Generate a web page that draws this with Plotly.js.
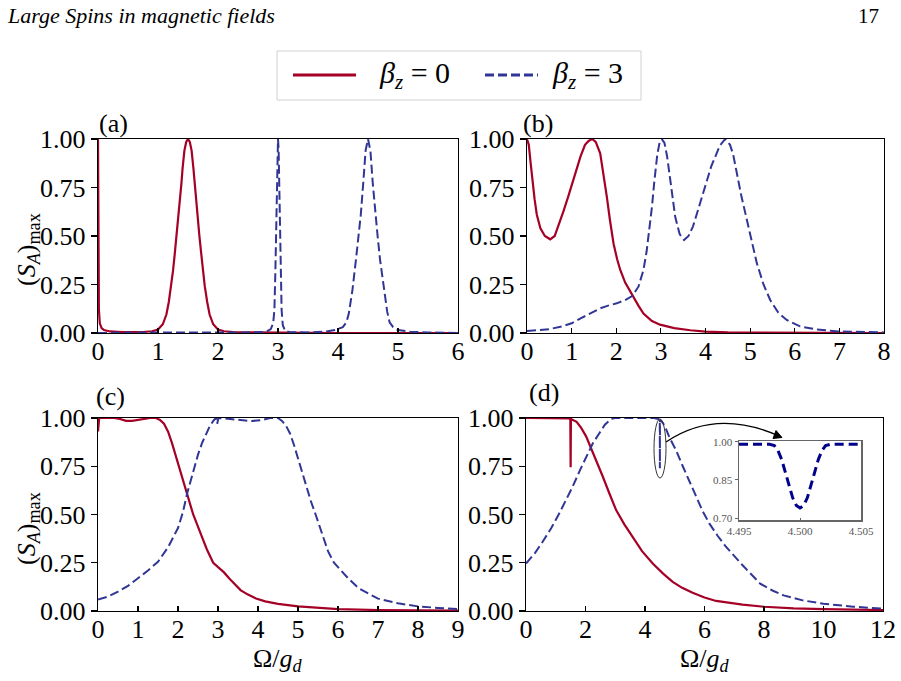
<!DOCTYPE html>
<html>
<head>
<meta charset="utf-8">
<script src="https://cdn.plot.ly/plotly-3.0.1.min.js"></script>
<style>
  html, body { margin: 0; padding: 0; background: #fff; }
  #chart { width: 901px; height: 681px; }
</style>
</head>
<body>
<div id="chart"></div>
<script>
// ---- (a) ----
const aOmega0 = [0, 0.005, 0.015, 0.03, 0.06, 0.1, 0.2, 0.4, 0.6, 0.75, 0.9, 1.0, 1.08, 1.14, 1.18, 1.22, 1.25, 1.28, 1.31, 1.33, 1.36, 1.39, 1.41, 1.44, 1.47, 1.5, 1.53, 1.56, 1.59, 1.61, 1.64, 1.67, 1.69, 1.72, 1.75, 1.78, 1.82, 1.86, 1.92, 2.0, 2.1, 2.25, 2.5, 3.0, 4.0, 5.0, 6.0];
const aSpin0  = [1.0, 0.5, 0.12, 0.05, 0.025, 0.015, 0.008, 0.005, 0.004, 0.005, 0.009, 0.018, 0.045, 0.095, 0.16, 0.24, 0.32, 0.41, 0.5, 0.56, 0.66, 0.77, 0.85, 0.94, 0.985, 1.0, 0.985, 0.94, 0.85, 0.77, 0.66, 0.56, 0.5, 0.41, 0.32, 0.24, 0.16, 0.095, 0.045, 0.018, 0.009, 0.005, 0.003, 0.001, 0, 0, 0];
const aOmega3 = [0, 0.5, 1.0, 1.5, 2.0, 2.5, 2.8, 2.88, 2.92, 2.94, 2.955, 2.97, 2.98, 2.99, 3.0, 3.01, 3.02, 3.03, 3.045, 3.06, 3.08, 3.12, 3.2, 3.5, 3.8, 3.95, 4.08, 4.14, 4.18, 4.24, 4.3, 4.34, 4.38, 4.42, 4.46, 4.5, 4.54, 4.58, 4.62, 4.66, 4.7, 4.76, 4.82, 4.86, 4.92, 5.0, 5.2, 5.5, 6.0];
const aSpin3  = [0, 0.002, 0.003, 0.002, 0.002, 0.003, 0.006, 0.02, 0.05, 0.12, 0.3, 0.55, 0.8, 0.95, 1.0, 0.95, 0.8, 0.55, 0.3, 0.12, 0.04, 0.01, 0.004, 0.003, 0.008, 0.015, 0.03, 0.055, 0.1, 0.22, 0.38, 0.5, 0.61, 0.77, 0.94, 1.0, 0.94, 0.77, 0.61, 0.5, 0.38, 0.23, 0.11, 0.055, 0.03, 0.015, 0.007, 0.003, 0];

// ---- (b) ----
const bOmega0 = [0, 0.04, 0.08, 0.12, 0.17, 0.22, 0.3, 0.4, 0.52, 0.62, 0.72, 0.82, 0.92, 1.0, 1.1, 1.2, 1.3, 1.38, 1.46, 1.54, 1.64, 1.71, 1.79, 1.86, 1.94, 2.02, 2.09, 2.2, 2.365, 2.5, 2.61, 2.8, 2.98, 3.3, 3.66, 4.0, 4.5, 5.0, 6.0, 7.0, 8.0];
const bSpin0  = [1.0, 0.97, 0.88, 0.79, 0.69, 0.61, 0.54, 0.5, 0.483, 0.5, 0.56, 0.63, 0.7, 0.76, 0.84, 0.91, 0.97, 0.99, 1.0, 0.985, 0.926, 0.83, 0.7, 0.58, 0.46, 0.38, 0.325, 0.26, 0.192, 0.14, 0.1, 0.062, 0.043, 0.025, 0.014, 0.007, 0.003, 0.002, 0.001, 0, 0];
const bOmega3 = [0, 0.5, 0.8, 1.0, 1.2, 1.4, 1.64, 1.8, 2.01, 2.2, 2.365, 2.5, 2.61, 2.68, 2.745, 2.8, 2.857, 2.92, 2.97, 3.02, 3.08, 3.14, 3.21, 3.32, 3.42, 3.52, 3.62, 3.72, 3.81, 3.92, 4.03, 4.13, 4.22, 4.32, 4.44, 4.55, 4.62, 4.7, 4.8, 4.93, 5.05, 5.15, 5.3, 5.45, 5.63, 5.82, 6.12, 6.5, 7.0, 7.5, 8.0];
const bSpin3  = [0.01, 0.02, 0.035, 0.05, 0.075, 0.1, 0.127, 0.14, 0.153, 0.17, 0.192, 0.24, 0.325, 0.42, 0.53, 0.65, 0.79, 0.92, 0.98, 1.0, 0.98, 0.91, 0.79, 0.6, 0.51, 0.479, 0.5, 0.55, 0.617, 0.7, 0.79, 0.86, 0.909, 0.965, 1.0, 0.97, 0.92, 0.823, 0.71, 0.58, 0.46, 0.36, 0.25, 0.17, 0.105, 0.067, 0.034, 0.018, 0.008, 0.004, 0.003];

// ---- (c) ----
const cOmega0 = [0, 0.03, 0.2, 0.4, 0.55, 0.7, 0.85, 1.0, 1.15, 1.3, 1.45, 1.55, 1.65, 1.75, 1.85, 1.95, 2.05, 2.2, 2.38, 2.55, 2.72, 2.88, 3.0, 3.15, 3.3, 3.45, 3.57, 3.75, 3.95, 4.18, 4.5, 5.0, 5.5, 6.0, 7.0, 8.0, 9.0];
const cSpin0  = [0.93, 1.0, 1.0, 1.0, 0.995, 0.985, 0.985, 0.99, 0.998, 1.0, 1.0, 0.99, 0.97, 0.93, 0.87, 0.8, 0.73, 0.62, 0.5, 0.41, 0.32, 0.25, 0.228, 0.2, 0.165, 0.13, 0.107, 0.085, 0.065, 0.05, 0.037, 0.024, 0.016, 0.01, 0.005, 0.003, 0.002];
const cOmega3 = [0, 0.25, 0.5, 0.75, 1.0, 1.25, 1.5, 1.75, 2.0, 2.12, 2.23, 2.4, 2.5, 2.6, 2.7, 2.8, 2.9, 2.95, 2.98, 3.01, 3.3, 3.6, 3.85, 4.1, 4.3, 4.5, 4.6, 4.7, 4.8, 4.9, 5.0, 5.1, 5.2, 5.32, 5.44, 5.6, 5.75, 5.9, 6.0, 6.25, 6.53, 7.0, 7.5, 8.0, 8.5, 9.0];
const cSpin3  = [0.06, 0.075, 0.1, 0.13, 0.17, 0.21, 0.255, 0.33, 0.43, 0.51, 0.61, 0.74, 0.81, 0.87, 0.92, 0.96, 0.99, 1.0, 0.97, 1.0, 0.995, 0.99, 0.984, 0.99, 1.0, 1.0, 0.985, 0.96, 0.92, 0.86, 0.79, 0.72, 0.65, 0.57, 0.5, 0.4, 0.31, 0.25, 0.228, 0.17, 0.116, 0.064, 0.04, 0.024, 0.016, 0.01];

// ---- (d) ----
const dOmega0 = [0, 0.5, 1.0, 1.3, 1.45, 1.49, 1.5, 1.51, 1.7, 1.85, 2.02, 2.2, 2.4, 2.58, 2.8, 3.03, 3.3, 3.59, 3.9, 4.26, 4.6, 4.93, 5.25, 5.6, 6.0, 6.39, 6.8, 7.28, 8.0, 9.0, 10.0, 11.0, 12.0];
const dSpin0  = [1.0, 1.0, 1.0, 1.0, 0.998, 0.995, 0.745, 0.995, 0.98, 0.95, 0.905, 0.84, 0.77, 0.697, 0.61, 0.523, 0.45, 0.385, 0.31, 0.246, 0.195, 0.151, 0.12, 0.094, 0.07, 0.052, 0.042, 0.033, 0.022, 0.014, 0.01, 0.007, 0.005];
const dOmega3 = [0, 0.3, 0.56, 0.85, 1.12, 1.35, 1.57, 1.8, 2.02, 2.25, 2.46, 2.65, 2.86, 3.0, 3.5, 4.0, 4.3, 4.45, 4.497, 4.4985, 4.4995, 4.5, 4.5005, 4.5015, 4.503, 4.6, 4.7, 4.82, 5.05, 5.27, 5.5, 5.71, 5.93, 6.16, 6.44, 6.72, 7.0, 7.28, 7.87, 8.3, 8.66, 9.3, 10.0, 11.0, 12.0];
const dSpin3  = [0.246, 0.3, 0.359, 0.43, 0.506, 0.575, 0.645, 0.725, 0.8, 0.87, 0.92, 0.965, 0.995, 1.0, 1.0, 1.0, 1.0, 0.995, 0.99, 0.9, 0.765, 0.74, 0.765, 0.9, 0.99, 0.975, 0.945, 0.9, 0.83, 0.75, 0.67, 0.59, 0.52, 0.454, 0.39, 0.333, 0.282, 0.237, 0.142, 0.105, 0.081, 0.055, 0.038, 0.022, 0.012];

// ---- zoom on the narrow dip of (d) ----
const zoomOmega = [4.495, 4.496, 4.497, 4.4975, 4.4979, 4.4982, 4.4985, 4.4988, 4.4991, 4.4994, 4.4997, 4.5, 4.5003, 4.5006, 4.5009, 4.5012, 4.5015, 4.5018, 4.5021, 4.5025, 4.503, 4.504, 4.505];
const zoomSpin  = [0.99, 0.99, 0.99, 0.99, 0.985, 0.965, 0.93, 0.88, 0.83, 0.78, 0.75, 0.74, 0.75, 0.78, 0.83, 0.88, 0.93, 0.965, 0.985, 0.99, 0.99, 0.99, 0.99];

const yTickVals = [0, 0.25, 0.5, 0.75, 1.0];
const yTickText = ['0.00', '0.25', '0.50', '0.75', '1.00'];
const zoomXTicks = [4.495, 4.5, 4.505];
const zoomXText = ['4.495', '4.500', '4.505'];
const zoomYTicks = [0.70, 0.85, 1.00];
const zoomYText = ['0.70', '0.85', '1.00'];
const seriesNames = ['<i>β<sub>z</sub></i> = 0', '<i>β<sub>z</sub></i> = 3'];

const RED = '#a50026';
const BLUE = '#313695';
const FONT = "'Liberation Serif', 'DejaVu Serif', serif";
const W = 901, H = 681;
const fx = p => p / W;
const fy = p => 1 - p / H;

function xAxis(range, dtick, left, right, anchor) {
  return {
    domain: [fx(left), fx(right)], range: range, dtick: dtick, tick0: 0, anchor: anchor,
    showline: true, mirror: true, linecolor: '#000', linewidth: 1.4,
    ticks: 'inside', ticklen: 5, tickwidth: 1.2, tickcolor: '#000',
    ticklabelstandoff: -6,
    showgrid: false, zeroline: false, fixedrange: true,
    tickfont: { family: FONT, size: 26, color: '#000' }
  };
}
function yAxis(top, bottom, anchor) {
  return {
    domain: [fy(bottom), fy(top)], range: [0, 1], anchor: anchor,
    tickvals: yTickVals, ticktext: yTickText,
    showline: true, mirror: true, linecolor: '#000', linewidth: 1.4,
    ticks: 'outside', ticklen: 6, tickwidth: 1.2, tickcolor: '#000',
    showgrid: false, zeroline: false, fixedrange: true,
    tickfont: { family: FONT, size: 26, color: '#000' }
  };
}

function pair(x0, y0, x3, y3, xa, ya) {
  return [
    { x: x0, y: y0, xaxis: xa, yaxis: ya, type: 'scatter', mode: 'lines', name: seriesNames[0],
      showlegend: false, line: { color: RED, width: 2.2 } },
    { x: x3, y: y3, xaxis: xa, yaxis: ya, type: 'scatter', mode: 'lines', name: seriesNames[1],
      showlegend: false, line: { color: BLUE, width: 2, dash: '9px,4px' } }
  ];
}

const traces = [].concat(
  pair(aOmega0, aSpin0, aOmega3, aSpin3, 'x', 'y'),
  pair(bOmega0, bSpin0, bOmega3, bSpin3, 'x2', 'y2'),
  pair(cOmega0, cSpin0, cOmega3, cSpin3, 'x3', 'y3'),
  pair(dOmega0, dSpin0, dOmega3, dSpin3, 'x4', 'y4'),
  [{ x: zoomOmega, y: zoomSpin, xaxis: 'x5', yaxis: 'y5', type: 'scatter', mode: 'lines',
     name: seriesNames[1], showlegend: false, line: { color: '#00008b', width: 3, dash: '9px,5px' } }]
);

const PTOP = 139, PBOT = 333, QTOP = 418, QBOT = 611;
const L1 = 98, R1 = 458, L2 = 526, R2 = 883;

const inset = { left: 739, right: 861, top: 441, bottom: 520 };
const smallFont = { family: FONT, size: 11, color: '#555' };

function txt(text, x, y, size, xanchor, extra) {
  return Object.assign({ text: text, x: fx(x), y: fy(y), xref: 'paper', yref: 'paper',
    xanchor: xanchor, yanchor: 'middle', showarrow: false,
    font: { family: FONT, size: size, color: '#000' } }, extra || {});
}

const annotations = [
  txt('<i>Large Spins in magnetic fields</i>', 5, 16, 22, 'left'),
  txt('17', 881, 16, 21, 'right'),
  txt('(a)', 97, 124, 26, 'left'),
  txt('(b)', 521, 124, 26, 'left'),
  txt('(c)', 94, 396, 26, 'left'),
  txt('(d)', 527, 392, 26, 'left'),
  txt('(<i>S<sub>A</sub></i>)<sub>max</sub>', 28, 250, 26, 'center', { textangle: -90 }),
  txt('(<i>S<sub>A</sub></i>)<sub>max</sub>', 28, 529, 26, 'center', { textangle: -90 }),
  txt('Ω/<i>g<sub>d</sub></i>', 278, 660, 26, 'center'),
  txt('Ω/<i>g<sub>d</sub></i>', 705, 660, 26, 'center'),
  txt(seriesNames[0], 377, 75, 30, 'left'),
  txt(seriesNames[1], 550, 75, 30, 'left')
];

// curved pointer from the ellipse to the zoom box
const p0 = [666, 442], pc = [716, 408], p1 = [779, 436];
const tip = [782, 437.5];
const arrowPath = 'M ' + fx(p0[0]) + ',' + fy(p0[1]) + ' Q ' + fx(pc[0]) + ',' + fy(pc[1]) + ' ' + fx(p1[0]) + ',' + fy(p1[1]);
const headPath = 'M ' + fx(tip[0]) + ',' + fy(tip[1]) + ' L ' + fx(773) + ',' + fy(438.5) + ' L ' + fx(776) + ',' + fy(430.5) + ' Z';

const shapes = [
  { type: 'rect', xref: 'paper', yref: 'paper', x0: fx(277), x1: fx(641), y0: fy(100), y1: fy(51),
    line: { color: '#d0d0d0', width: 1 }, fillcolor: '#fff', layer: 'below' },
  { type: 'line', xref: 'paper', yref: 'paper', x0: fx(293), x1: fx(356), y0: fy(75), y1: fy(75),
    line: { color: RED, width: 3 } },
  { type: 'line', xref: 'paper', yref: 'paper', x0: fx(485), x1: fx(538), y0: fy(75), y1: fy(75),
    line: { color: BLUE, width: 3, dash: '9px,4px' } },
  { type: 'circle', xref: 'paper', yref: 'paper', x0: fx(654), x1: fx(666), y0: fy(478), y1: fy(419),
    line: { color: '#333', width: 1 } },
  { type: 'path', xref: 'paper', yref: 'paper', path: arrowPath, line: { color: '#000', width: 1.3 } },
  { type: 'path', xref: 'paper', yref: 'paper', path: headPath, line: { color: '#000', width: 1 }, fillcolor: '#000' }
];

const layout = {
  width: W, height: H,
  margin: { l: 0, r: 0, t: 0, b: 0 },
  paper_bgcolor: '#fff', plot_bgcolor: '#fff',
  showlegend: false,
  font: { family: FONT, color: '#000' },
  xaxis: xAxis([0, 6], 1, L1, R1, 'y'),
  yaxis: yAxis(PTOP, PBOT, 'x'),
  xaxis2: xAxis([0, 8], 1, 527, 884, 'y2'),
  yaxis2: yAxis(PTOP, PBOT, 'x2'),
  xaxis3: xAxis([0, 9], 1, L1, R1, 'y3'),
  yaxis3: yAxis(QTOP, QBOT, 'x3'),
  xaxis4: xAxis([0, 12], 2, L2, R2, 'y4'),
  yaxis4: yAxis(QTOP, QBOT, 'x4'),
  xaxis5: {
    domain: [fx(inset.left), fx(inset.right)], range: [4.495, 4.505], anchor: 'y5',
    tickvals: zoomXTicks, ticktext: zoomXText,
    showline: true, mirror: true, linecolor: '#666', linewidth: 1.5,
    ticks: 'inside', ticklen: 2, tickcolor: '#666',
    showgrid: false, zeroline: false, fixedrange: true, tickfont: smallFont
  },
  yaxis5: {
    domain: [fy(inset.bottom), fy(inset.top)], range: [0.693, 1.003], anchor: 'x5',
    tickvals: zoomYTicks, ticktext: zoomYText,
    showline: true, mirror: true, linecolor: '#666', linewidth: 1.5,
    ticks: 'outside', ticklen: 3, tickcolor: '#666',
    showgrid: false, zeroline: false, fixedrange: true, tickfont: smallFont
  },
  annotations: annotations,
  shapes: shapes
};

Plotly.newPlot('chart', traces, layout, { staticPlot: true, displayModeBar: false });
</script>
</body>
</html>
